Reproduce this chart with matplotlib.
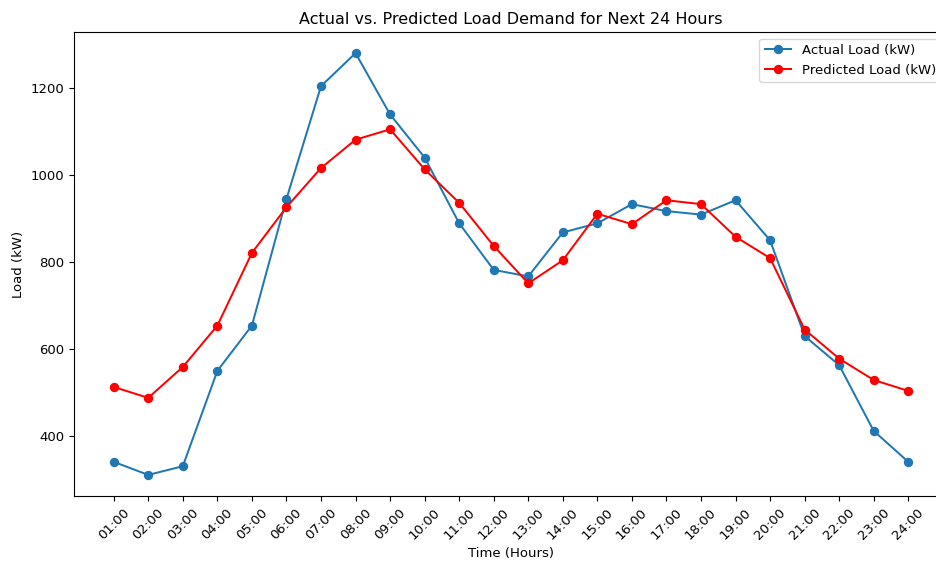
import matplotlib
matplotlib.use("Agg")
import matplotlib.pyplot as plt

hours = ["01:00", "02:00", "03:00", "04:00", "05:00", "06:00", "07:00", "08:00",
         "09:00", "10:00", "11:00", "12:00", "13:00", "14:00", "15:00", "16:00",
         "17:00", "18:00", "19:00", "20:00", "21:00", "22:00", "23:00", "24:00"]
actual = [341, 311, 331, 550, 654, 945, 1204, 1280, 1139, 1040, 889, 782,
          767, 868, 889, 933, 917, 909, 942, 850, 630, 563, 412, 341]
predicted = [513, 488, 559, 654, 821, 926, 1016, 1081, 1105, 1013, 936, 837,
             751, 804, 911, 887, 942, 933, 858, 809, 645, 578, 529, 504]

s = 1.33 / (100 / 72)  # scale from reference px to points at dpi 100

fig = plt.figure(figsize=(9.36, 5.63), dpi=100)
ax = fig.add_axes([74 / 936, 67 / 563, 874 / 936, 464 / 563])
x = list(range(1, len(hours) + 1))
ax.plot(x, actual, marker="o", color="#1f77b4", lw=1.5 * s, ms=6 * s, label="Actual Load (kW)")
ax.plot(x, predicted, marker="o", color="red", lw=1.5 * s, ms=6 * s, label="Predicted Load (kW)")
ax.set_xticks(x)
ax.set_xticklabels(hours, rotation=45, fontsize=10 * s)
ax.tick_params(axis="y", labelsize=10 * s)
ax.set_xlabel("Time (Hours)", fontsize=10 * s)
ax.set_ylabel("Load (kW)", fontsize=10 * s)
ax.set_title("Actual vs. Predicted Load Demand for Next 24 Hours", fontsize=12 * s)
ax.legend(loc="upper right", fontsize=10 * s)
fig.savefig("out.png", dpi=100)
